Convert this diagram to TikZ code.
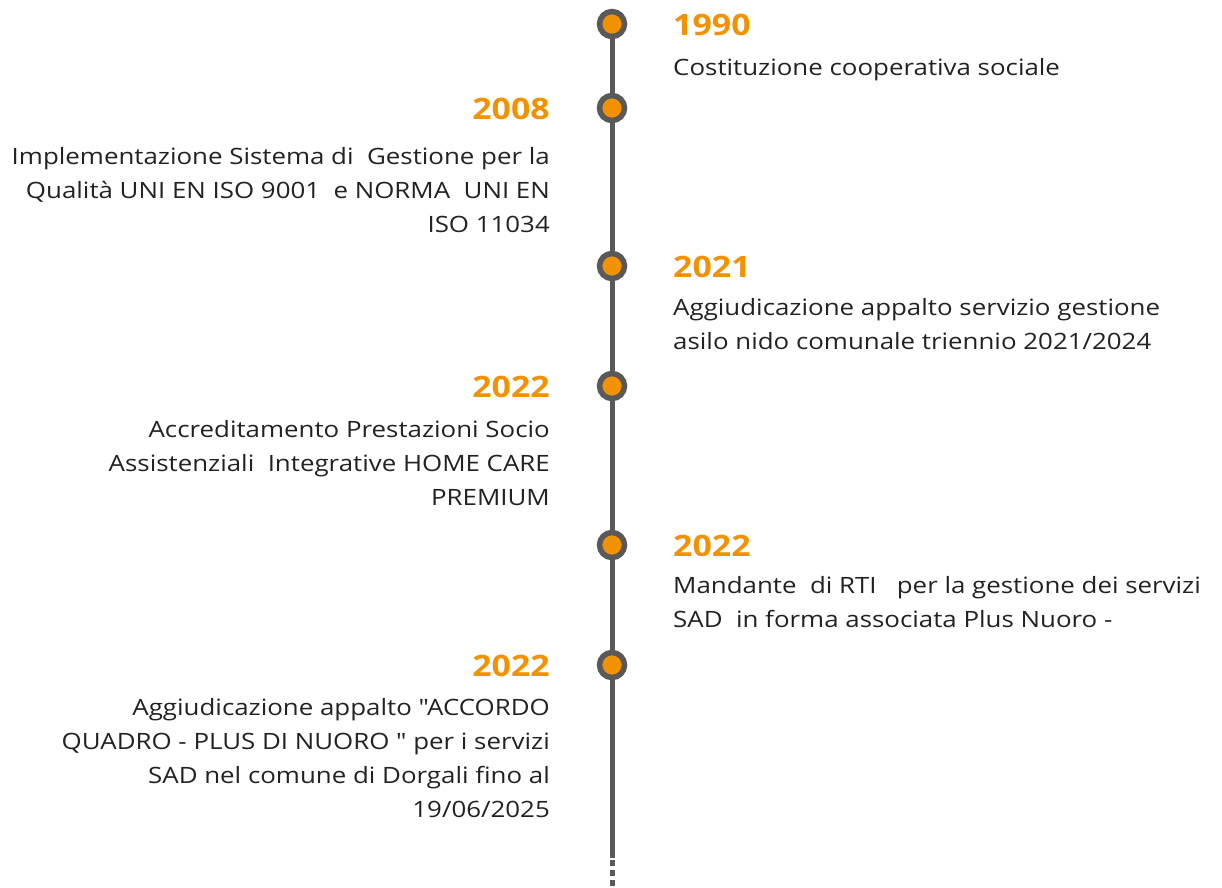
\documentclass[tikz,border=0pt]{standalone}
\usepackage{fontspec}
\setmainfont[FakeStretch=1.15,Ligatures=TeXOff]{Open Sans}
\definecolor{tlorange}{HTML}{F39200}
\definecolor{tlgray}{HTML}{595959}
\definecolor{tltext}{HTML}{222222}
\begin{document}
\begin{tikzpicture}[x=1pt,y=-1pt,
  dot/.style={circle,fill=tlorange,draw=tlgray,line width=5.5pt,minimum size=25pt,inner sep=0pt},
  yearR/.style={anchor=base west,inner sep=0pt,text=tlorange,font=\fontsize{29.5}{34}\selectfont\bfseries},
  yearL/.style={anchor=base east,inner sep=0pt,text=tlorange,font=\fontsize{29.5}{34}\selectfont\bfseries},
  descR/.style={anchor=base west,inner sep=0pt,align=left,text=tltext,font=\fontsize{22.5}{34}\selectfont},
  descL/.style={anchor=base east,inner sep=0pt,align=right,text=tltext,font=\fontsize{22.5}{34}\selectfont},
  axis/.style={draw=tlgray,line width=5pt}]
\useasboundingbox (0,0) rectangle (1222,887);
\node[dot] (c1) at (612,24) {};
\node[dot] (c2) at (612,108) {};
\node[dot] (c3) at (612,266) {};
\node[dot] (c4) at (612,386) {};
\node[dot] (c5) at (612,545) {};
\node[dot] (c6) at (612,665) {};
\coordinate (e1) at (612,858);
\coordinate (e2) at (612,887);
\draw[axis] (c1) -- (c2);
\draw[axis] (c2) -- (c3);
\draw[axis] (c3) -- (c4);
\draw[axis] (c4) -- (c5);
\draw[axis] (c5) -- (c6);
\draw[axis] (c6) -- (e1);
\draw[axis,dash pattern=on 6pt off 4pt] (e1) ++(0,2) -- (e2);

% multi-line nodes are anchored at the baseline of their last line
\node[yearR] (y1) at (673,35) {1990};
\node[descR] (t1) at (673,75) {Costituzione cooperativa sociale};

\node[yearL] (y2) at (550,119) {2008};
\node[descL] (t2) at (550,232) {Implementazione Sistema di\ \ Gestione per la\\Qualità UNI EN ISO 9001\ \ e NORMA\ \ UNI EN\\ISO 11034};

\node[yearR] (y3) at (673,277) {2021};
\node[descR] (t3) at (673,349) {Aggiudicazione appalto servizio gestione\\asilo nido comunale triennio 2021/2024};

\node[yearL] (y4) at (550,397) {2022};
\node[descL] (t4) at (550,505) {Accreditamento Prestazioni Socio\\Assistenziali\ \ Integrative HOME CARE\\PREMIUM};

\node[yearR] (y5) at (673,556) {2022};
\node[descR] (t5) at (673,627) {Mandante\ \ di RTI\ \ \ per la gestione dei servizi\\SAD\ \ in forma associata Plus Nuoro -};

\node[yearL] (y6) at (550,676) {2022};
\node[descL] (t6) at (550,817) {Aggiudicazione appalto "ACCORDO\\QUADRO - PLUS DI NUORO " per i servizi\\SAD nel comune di Dorgali fino al\\19/06/2025};
\end{tikzpicture}
\end{document}
